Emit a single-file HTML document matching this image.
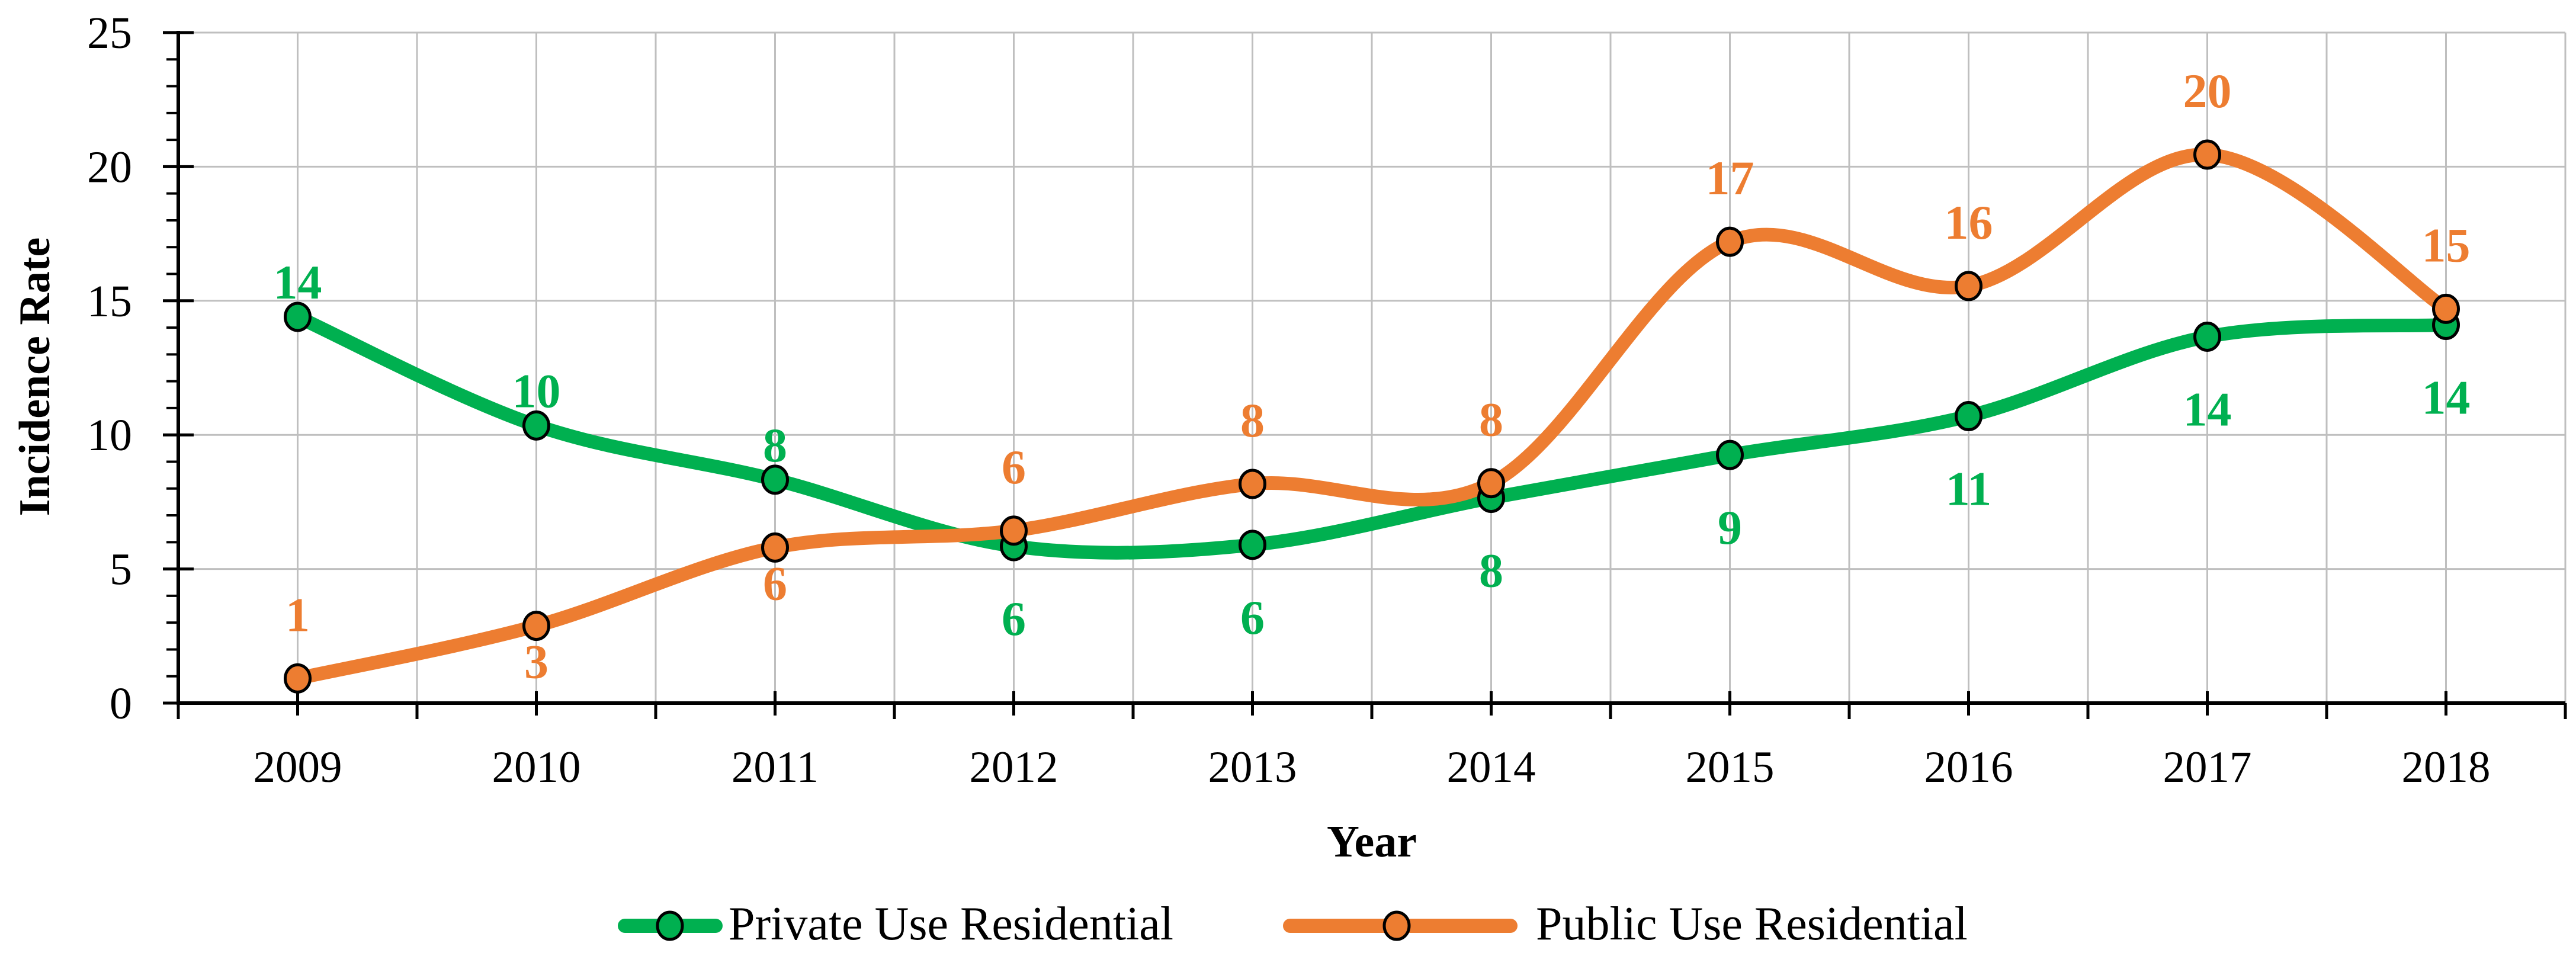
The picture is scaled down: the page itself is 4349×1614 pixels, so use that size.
<!DOCTYPE html>
<html><head><meta charset="utf-8"><style>
html,body{margin:0;padding:0;background:#fff;}
svg{display:block;font-family:"Liberation Serif",serif;}
</style></head><body>
<svg id="chart" width="4349" height="1614" viewBox="0 0 4349 1614" xmlns="http://www.w3.org/2000/svg">
<g id="grid"></g>
<g id="axes"></g>
<g id="series"></g>
<g id="labels"></g>
<text x="59" y="636" transform="rotate(-90 59 636)" text-anchor="middle" dominant-baseline="central" font-size="74" font-weight="bold">Incidence Rate</text>
<text x="2316" y="1446" text-anchor="middle" font-size="76" font-weight="bold">Year</text>
<g>
  <g>
    <line x1="1055" y1="1563" x2="1208" y2="1563" stroke="#00b050" stroke-width="24" stroke-linecap="round"/>
    <ellipse cx="1131" cy="1563" rx="21" ry="23" fill="#00b050" stroke="#000" stroke-width="5"/>
    <text x="1230" y="1586" font-size="80">Private Use Residential</text>
  </g>
  <g>
    <line x1="2178" y1="1563" x2="2550" y2="1563" stroke="#ed7d31" stroke-width="24" stroke-linecap="round"/>
    <ellipse cx="2358" cy="1563" rx="21" ry="23" fill="#ed7d31" stroke="#000" stroke-width="5"/>
    <text x="2593" y="1586" font-size="80">Public Use Residential</text>
  </g>
</g>
</svg>
<script>
const years = ['2009','2010','2011','2012','2013','2014','2015','2016','2017','2018'];
const privateValues = [14.4, 10.35, 8.33, 5.85, 5.9, 7.65, 9.25, 10.7, 13.66, 14.1];
const publicValues = [0.92, 2.88, 5.8, 6.43, 8.17, 8.2, 17.2, 15.55, 20.45, 14.7];
const privateLabels = ['14','10','8','6','6','8','9','11','14','14'];
const publicLabels = ['1','3','6','6','8','8','17','16','20','15'];
const privateLabelPos = ['above','above','above','below','below','below','below','below','below','below'];
const publicLabelPos = ['above','below','below','above','above','above','above','above','above','above'];
const yTicks = [0,5,10,15,20,25];

const NS='http://www.w3.org/2000/svg';
const X0=301, X1=4331, Y0=1187, YTOP=55, YMAX=25;
const band=(X1-X0)/years.length;
function xPos(i){return X0+band*(i+0.5);}
function yPos(v){return Y0-(Y0-YTOP)*v/YMAX;}
function mk(tag,attrs,parent){const e=document.createElementNS(NS,tag);for(const k in attrs)e.setAttribute(k,attrs[k]);parent.appendChild(e);return e;}
const grid=document.getElementById('grid'), axes=document.getElementById('axes'), series=document.getElementById('series'), labels=document.getElementById('labels');

yTicks.forEach(t=>{
  if(t>0){const g=mk('line',{x1:X0,y1:yPos(t),x2:X1,y2:yPos(t),stroke:'#bfbfbf','stroke-width':3},grid);
  
  }
  const tk=mk('line',{x1:275,y1:yPos(t),x2:327,y2:yPos(t),stroke:'#000','stroke-width':5},axes);
  
  
  const tx=mk('text',{x:223,y:yPos(t)+26,'text-anchor':'end','font-size':76},axes);
  tx.textContent=t;
  
  
});
for(let v=1;v<YMAX;v++){ if(v%5===0) continue;
  const m=mk('line',{x1:281,y1:yPos(v),x2:301,y2:yPos(v),stroke:'#000','stroke-width':4},axes);
  
  
}
for(let i=0;i<=years.length;i++){
  const bx=X0+band*i;
  if(i>0){const g=mk('line',{x1:bx,y1:YTOP,x2:bx,y2:Y0,stroke:'#bfbfbf','stroke-width':3},grid);
  
  }
  const t=mk('line',{x1:bx,y1:Y0,x2:bx,y2:1214,stroke:'#000','stroke-width':5},axes);
  
  
}
years.forEach((yr,i)=>{
  const g=mk('line',{x1:xPos(i),y1:YTOP,x2:xPos(i),y2:Y0,stroke:'#bfbfbf','stroke-width':3},grid);
  
  
  const t=mk('line',{x1:xPos(i),y1:1167,x2:xPos(i),y2:1208,stroke:'#000','stroke-width':5},axes);
  
  
  const tx=mk('text',{x:xPos(i),y:1320,'text-anchor':'middle','font-size':75},axes);
  tx.textContent=yr;
  
  
});
const ya=mk('line',{x1:X0,y1:YTOP-3,x2:X0,y2:Y0+3,stroke:'#000','stroke-width':6},axes);


const xa=mk('line',{x1:X0,y1:Y0,x2:X1,y2:Y0,stroke:'#000','stroke-width':6},axes);



function smooth(pts){
  let d='M'+pts[0][0]+','+pts[0][1];
  for(let i=0;i<pts.length-1;i++){
    const p0=pts[Math.max(0,i-1)],p1=pts[i],p2=pts[i+1],p3=pts[Math.min(pts.length-1,i+2)];
    const c1=[p1[0]+(p2[0]-p0[0])/6,p1[1]+(p2[1]-p0[1])/6];
    const c2=[p2[0]-(p3[0]-p1[0])/6,p2[1]-(p3[1]-p1[1])/6];
    d+=' C'+c1[0]+','+c1[1]+' '+c2[0]+','+c2[1]+' '+p2[0]+','+p2[1];
  }
  return d;
}
function drawSeries(vals,color,name){
  const pts=vals.map((v,i)=>[xPos(i),yPos(v)]);
  const p=mk('path',{d:smooth(pts),fill:'none',stroke:color,'stroke-width':23,'stroke-linecap':'round'},series);
  
  
  return pts;
}
function drawMarkers(pts,lbls,pos,color,name,aboveOff,belowOff){
  pts.forEach((pt,i)=>{
    const c=mk('ellipse',{cx:pt[0],cy:pt[1],rx:21,ry:23,fill:color,stroke:'#000','stroke-width':5},series);
    
    
    const ty=pos[i]==='above'?pt[1]-aboveOff:pt[1]+belowOff;
    const t=mk('text',{x:pt[0],y:ty,'text-anchor':'middle','font-size':82,'font-weight':'bold',fill:color},labels);
    t.textContent=lbls[i];
    
    
  });
}
const gp=drawSeries(privateValues,'#00b050','private');
const op=drawSeries(publicValues,'#ed7d31','public');
drawMarkers(gp,privateLabels,privateLabelPos,'#00b050','private',31,150);
drawMarkers(op,publicLabels,publicLabelPos,'#ed7d31','public',80,88);
</script>
</body></html>
